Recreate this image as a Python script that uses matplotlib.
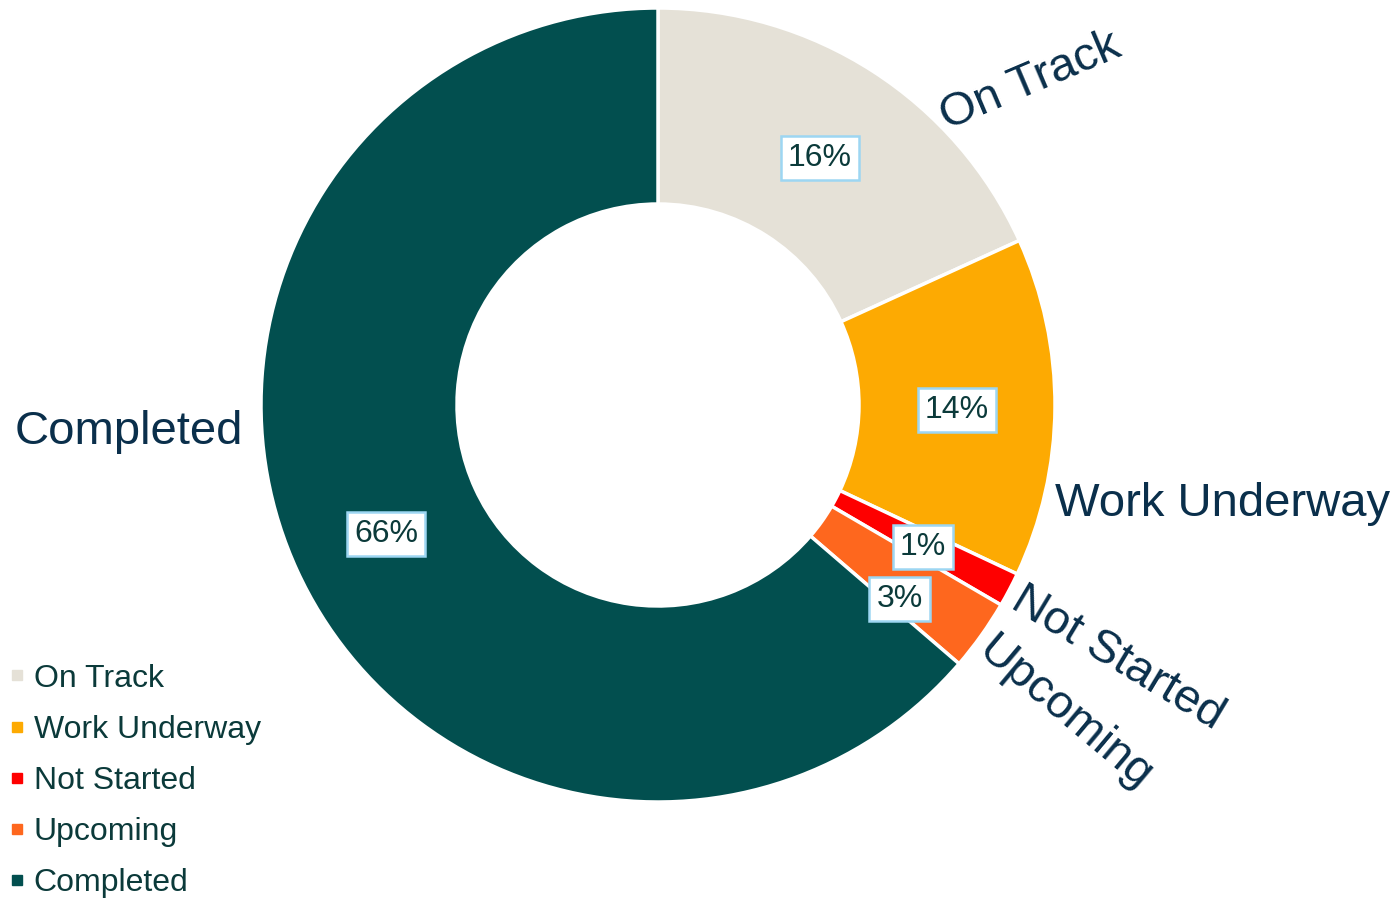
import numpy as np
import matplotlib
matplotlib.use("Agg")
import matplotlib.pyplot as plt
from matplotlib.lines import Line2D

plt.rcParams['font.family'] = ['Liberation Sans', 'DejaVu Sans']

categories = ["On Track", "Work Underway", "Not Started", "Upcoming", "Completed"]
values = [18.2, 13.8, 1.4, 2.9, 63.7]
pct_labels = ["16%", "14%", "1%", "3%", "66%"]
colors = ["#E5E1D7", "#FDAA02", "#FE0000", "#FE671E", "#024F4F"]

W, H = 1398, 899
fig = plt.figure(figsize=(W / 100, H / 100), dpi=100)
ax = fig.add_axes([0, 0, 1, 1])

cx, cy = 658, H - 405
R, r_in = 397, 201
wedges, _ = ax.pie(values, colors=colors, startangle=90, counterclock=False,
                   radius=R, center=(cx, cy),
                   wedgeprops=dict(width=R - r_in, edgecolor='white', linewidth=2.5))
ax.set_xlim(0, W)
ax.set_ylim(0, H)
ax.set_aspect('equal')
ax.axis('off')

# percentage labels at mid ring
label_r = (R + r_in) / 2
nudges = [(0, -4), (0, -3), (0, -3), (-2, -21), (0, -4)]
for w, txt, (dx, dy) in zip(wedges, pct_labels, nudges):
    ang = np.deg2rad((w.theta1 + w.theta2) / 2)
    x = cx + label_r * np.cos(ang) + dx
    y = cy + label_r * np.sin(ang) + dy
    ax.text(x, y, txt, ha='center', va='center', fontsize=23, color='#0B3A3A',
            bbox=dict(boxstyle='square,pad=0.22', fc='white', ec='#9DD6F2', lw=1.8))

# category labels outside
cat_pos = [(1030, 82, 23), (1223, 504, 0), (1118, 658, -31), (1065, 713, -40), (129, 432, 0)]
for name, (x, y, rot) in zip(categories, cat_pos):
    ax.text(x, H - y, name, ha='center', va='center', fontsize=34, color='#0A2F4B',
            rotation=rot, rotation_mode='anchor')

handles = [Line2D([0], [0], marker='s', linestyle='none', markersize=7.5,
                  markerfacecolor=c, markeredgecolor=c) for c in colors]
ax.legend(handles, categories, loc='lower left', bbox_to_anchor=(7.0 / W, 1.0 / H),
          frameon=False, fontsize=23, handlelength=0.6, handletextpad=0.24,
          labelspacing=0.66, borderaxespad=0.0, borderpad=0.0,
          labelcolor='#0B3A3A')

fig.savefig('out.png', dpi=100)
